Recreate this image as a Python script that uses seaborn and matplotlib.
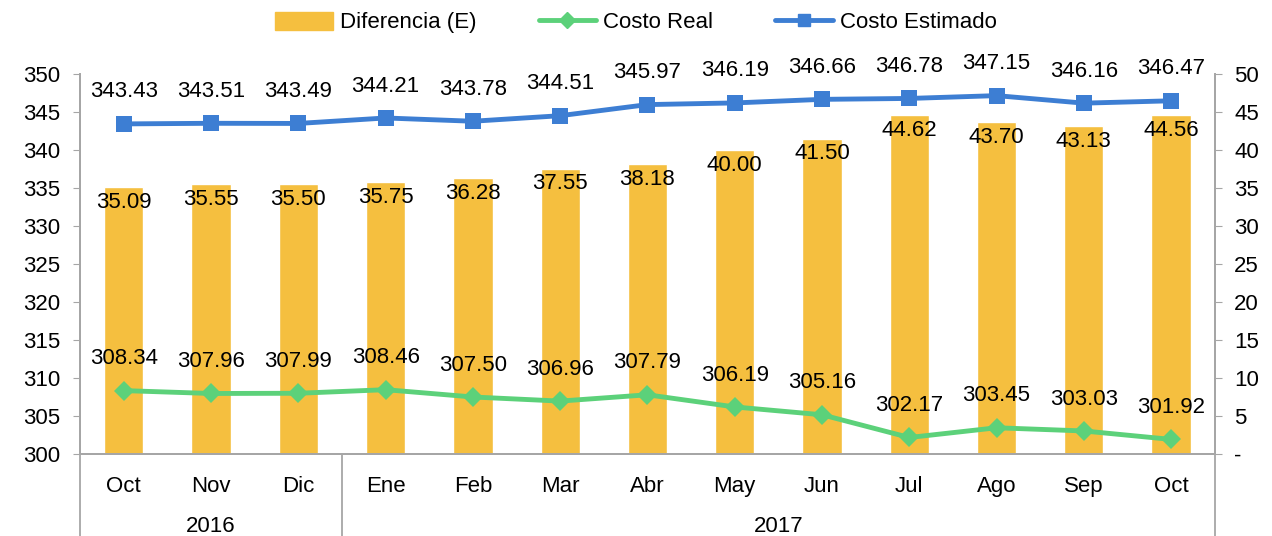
import numpy as np
import pandas as pd
import matplotlib
matplotlib.use("Agg")
import matplotlib.pyplot as plt
import matplotlib.transforms as mtransforms
from matplotlib.ticker import FuncFormatter, MultipleLocator
from matplotlib.lines import Line2D
from matplotlib.patches import Patch
import seaborn as sns

meses = ["Oct", "Nov", "Dic", "Ene", "Feb", "Mar", "Abr", "May", "Jun", "Jul", "Ago", "Sep", "Oct"]
anios = ["2016", "2016", "2016", "2017", "2017", "2017", "2017", "2017", "2017", "2017", "2017", "2017", "2017"]
costo_estimado = [343.43, 343.51, 343.49, 344.21, 343.78, 344.51, 345.97, 346.19, 346.66, 346.78, 347.15, 346.16, 346.47]
costo_real = [308.34, 307.96, 307.99, 308.46, 307.50, 306.96, 307.79, 306.19, 305.16, 302.17, 303.45, 303.03, 301.92]
diferencia = [35.09, 35.55, 35.50, 35.75, 36.28, 37.55, 38.18, 40.00, 41.50, 44.62, 43.70, 43.13, 44.56]

c_bar = "#F5BF3F"
c_real = "#5CD17A"
c_est = "#3D7ED3"
c_axis = "#A6A6A6"
fs = 16

sns.set_style("white")
plt.rcParams["font.family"] = ["Liberation Sans", "DejaVu Sans"]
plt.rcParams["text.color"] = "black"
plt.rcParams["xtick.color"] = "black"
plt.rcParams["ytick.color"] = "black"

df = pd.DataFrame({"pos": np.arange(len(meses)), "mes": meses, "anio": anios,
                   "estimado": costo_estimado, "real": costo_real, "dif": diferencia})

fig = plt.figure(figsize=(12.72, 5.36), dpi=100)
ax1 = fig.add_axes([0.063, 0.153, 0.892, 0.709])
ax2 = ax1.twinx()

# bars on right axis
sns.barplot(data=df, x="pos", y="dif", color=c_bar, width=0.45, saturation=1, ax=ax2)
for p, v in zip(df["pos"], df["dif"]):
    ax2.annotate(f"{v:.2f}", (p, v), xytext=(0, -11), textcoords="offset points",
                 ha="center", va="center", fontsize=fs)

# lines on left axis
ax1.set_zorder(ax2.get_zorder() + 1)
ax1.patch.set_visible(False)
sns.lineplot(data=df, x="pos", y="estimado", color=c_est, lw=3.5, marker="s", markersize=12,
             markeredgewidth=0, ax=ax1)
sns.lineplot(data=df, x="pos", y="real", color=c_real, lw=3.5, marker="D", markersize=10,
             markeredgewidth=0, ax=ax1)
for p, v in zip(df["pos"], df["estimado"]):
    ax1.annotate(f"{v:.2f}", (p, v), xytext=(0, 23), textcoords="offset points",
                 ha="center", va="center", fontsize=fs)
for p, v in zip(df["pos"], df["real"]):
    ax1.annotate(f"{v:.2f}", (p, v), xytext=(0, 23), textcoords="offset points",
                 ha="center", va="center", fontsize=fs)

n = len(meses)
ax1.set_xlim(-0.5, n - 0.5)
ax1.set_ylim(300, 350)
ax2.set_ylim(0, 50)
ax1.yaxis.set_major_locator(MultipleLocator(5))
ax2.yaxis.set_major_locator(MultipleLocator(5))
ax2.yaxis.set_major_formatter(FuncFormatter(lambda v, _: "-" if v == 0 else f"{v:.0f}"))

ax1.set_xticks(df["pos"])
ax1.set_xticklabels(meses)
ax1.tick_params(axis="x", length=0, pad=16, labelsize=fs)
ax2.tick_params(axis="x", length=0, labelbottom=False)
ax1.tick_params(axis="y", length=5, color=c_axis, labelsize=fs, direction="out", pad=9)
ax2.tick_params(axis="y", length=5, color=c_axis, labelsize=fs, direction="out", pad=9)
for a in (ax1, ax2):
    a.set_xlabel("")
    a.set_ylabel("")
    a.spines["top"].set_visible(False)
    for s in ("left", "right", "bottom"):
        a.spines[s].set_color(c_axis)
        a.spines[s].set_linewidth(1.3)

# year grouping below the month labels
trans = mtransforms.blended_transform_factory(ax1.transData, ax1.transAxes)
bounds = [-0.5]
for i in range(1, n):
    if anios[i] != anios[i - 1]:
        bounds.append(i - 0.5)
bounds.append(n - 0.5)
for b in bounds:
    ax1.plot([b, b], [0, -0.22], transform=trans, color=c_axis, lw=1.3, clip_on=False)
for a0, a1 in zip(bounds[:-1], bounds[1:]):
    ax1.text((a0 + a1) / 2, -0.192, anios[int(a0 + 0.5)], transform=trans,
             ha="center", va="center", fontsize=fs)

handles = [Patch(color=c_bar, label="Diferencia (E)"),
           Line2D([], [], color=c_real, lw=3.5, marker="D", markersize=8, label="Costo Real"),
           Line2D([], [], color=c_est, lw=3.5, marker="s", markersize=9, label="Costo Estimado")]
fig.legend(handles=handles, loc="center", bbox_to_anchor=(0.5, 0.958), ncol=3, frameon=False,
           fontsize=fs, handlelength=2.6, handleheight=0.9, handletextpad=0.3, columnspacing=2.8)

fig.savefig("out.png", dpi=100)
